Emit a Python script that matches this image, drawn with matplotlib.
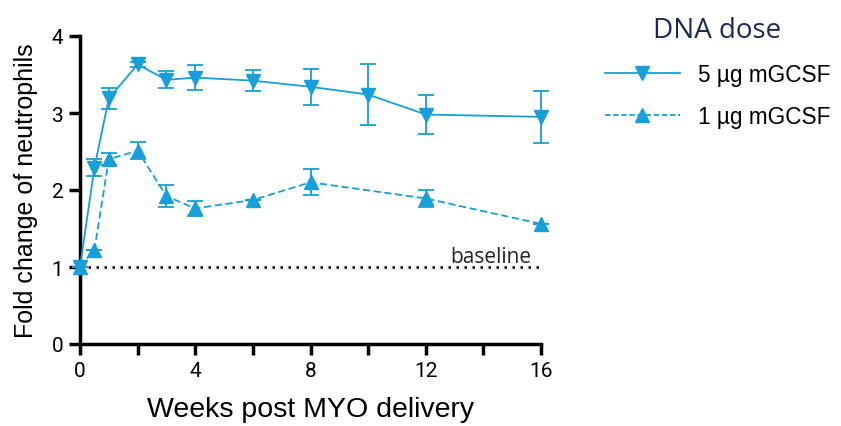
import matplotlib
matplotlib.use("Agg")
import matplotlib.pyplot as plt
from matplotlib.lines import Line2D

weeks_5 = [0, 0.5, 1, 2, 3, 4, 6, 8, 10, 12, 16]
vals_5 = [1.0, 2.29, 3.19, 3.63, 3.43, 3.46, 3.42, 3.34, 3.24, 2.98, 2.95]
err_5 = [0.0, 0.11, 0.14, 0.03, 0.11, 0.16, 0.14, 0.23, 0.39, 0.25, 0.34]

weeks_1 = [0, 0.5, 1, 2, 3, 4, 6, 8, 12, 16]
vals_1 = [1.0, 1.22, 2.40, 2.51, 1.92, 1.76, 1.87, 2.10, 1.89, 1.56]
err_1 = [0.0, 0.0, 0.08, 0.11, 0.14, 0.10, 0.0, 0.17, 0.11, 0.0]

xticks = [0, 4, 8, 12, 16]
yticks = [0, 1, 2, 3, 4]
baseline = 1.0

color = "#169FDB"

fig = plt.figure(figsize=(8.41, 4.27), dpi=100)
ax = fig.add_axes([80/841, 1-345/427, (541-80)/841, (345-37)/427])

ax.axhline(baseline, color="black", linestyle=(0, (1, 2.2)), linewidth=1.8, zorder=1)
ax.text(15.65, baseline + 0.0, "baseline", ha="right", va="bottom",
        fontsize=15, family="Open Sans", color="#222222")

l5 = ax.errorbar(weeks_5, vals_5, yerr=err_5, color=color, marker="v", markersize=10,
                 linewidth=1.3, elinewidth=1.3, capsize=6, capthick=1.3,
                 clip_on=False, zorder=3, label="5 µg mGCSF")
l1 = ax.errorbar(weeks_1, vals_1, yerr=err_1, color=color, marker="^", markersize=10,
                 linewidth=1.3, linestyle=(0, (4, 2)), elinewidth=1.3, capsize=6, capthick=1.3,
                 clip_on=False, zorder=3, label="1 µg mGCSF")
for c in l5.get_children() + l1.get_children():
    c.set_clip_on(False)

ax.set_xlim(0, 16)
ax.set_ylim(0, 4)
ax.set_xticks(xticks)
ax.set_xticks([2, 6, 10, 14], minor=True)
ax.set_yticks(yticks)
for s in ["top", "right"]:
    ax.spines[s].set_visible(False)
for s in ["left", "bottom"]:
    ax.spines[s].set_linewidth(2.5)
ax.tick_params(which="both", direction="out", length=8, width=2.5, labelsize=15, pad=4)
for lab in ax.get_xticklabels() + ax.get_yticklabels():
    lab.set_family("Roboto")

ax.set_xlabel("Weeks post MYO delivery", fontsize=20.5, family="Liberation Sans", labelpad=12)
ax.set_ylabel("Fold change of neutrophils", fontsize=18, family="Liberation Sans", labelpad=10)

h5 = Line2D([], [], color=color, marker="v", markersize=10, linewidth=1.3)
h1 = Line2D([], [], color=color, marker="^", markersize=10, linewidth=1.3, linestyle=(0, (3, 1.5)))
leg = fig.legend([h5, h1], ["5 µg mGCSF", "1 µg mGCSF"], loc="upper left",
                 bbox_to_anchor=(589/841, 1-1/427), frameon=False, handlelength=3.3,
                 handletextpad=0.8, labelspacing=0.85, borderpad=0.2,
                 title="DNA dose", prop={"family": "Liberation Sans", "size": 16.3})
leg.get_title().set_fontsize(20)
leg.get_title().set_family("Open Sans")
leg.get_title().set_color("#1B2A5C")

fig.savefig("out.png", dpi=100)
